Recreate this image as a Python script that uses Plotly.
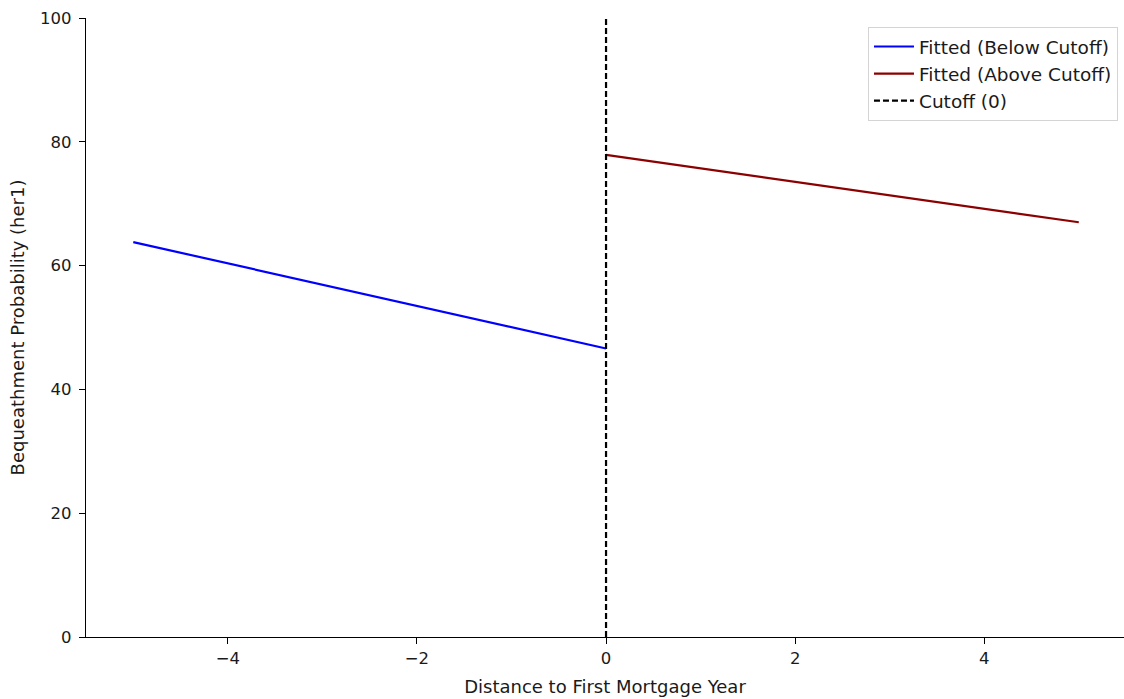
import plotly.graph_objects as go

below_x = [-5, 0]
below_y = [63.8, 46.6]
above_x = [0, 5]
above_y = [77.9, 67.0]
cutoff_x = [0, 0]
cutoff_y = [0, 100]

x_ticks = [-4, -2, 0, 2, 4]
x_tick_text = ["\u22124", "\u22122", "0", "2", "4"]
y_ticks = [0, 20, 40, 60, 80, 100]

txt = "#1a1a1a"
tick_font = dict(family="DejaVu Sans", size=16.5, color=txt)
title_font = dict(family="DejaVu Sans", size=18, color=txt)
legend_font = dict(family="DejaVu Sans", size=18.5, color=txt)

fig = go.Figure()
fig.add_trace(go.Scatter(x=below_x, y=below_y, mode="lines", name="Fitted (Below Cutoff)",
                         legendgroup="a", line=dict(color="#0000ff", width=2.2)))
fig.add_trace(go.Scatter(x=above_x, y=above_y, mode="lines", name="Fitted (Above Cutoff)",
                         legendgroup="b", line=dict(color="#8b0000", width=2.2)))
fig.add_trace(go.Scatter(x=cutoff_x, y=cutoff_y, mode="lines", name="Cutoff (0)",
                         legendgroup="c", line=dict(color="black", width=2.2, dash="6px,3px")))

fig.update_layout(
    template="none",
    width=1124, height=699,
    margin=dict(l=86, r=0, t=18, b=62, autoexpand=False),
    paper_bgcolor="white", plot_bgcolor="white",
    font=title_font,
    showlegend=True,
    legend=dict(x=0.9942, y=0.9855, xanchor="right", yanchor="top",
                bgcolor="rgba(255,255,255,0.8)", bordercolor="#d4d4d4", borderwidth=1,
                font=legend_font, traceorder="grouped",
                tracegroupgap=0, itemwidth=40),
    xaxis=dict(range=[-5.5, 5.478], tickvals=x_ticks, ticktext=x_tick_text,
               tickfont=tick_font, automargin=False,
               showgrid=False, zeroline=False, showline=True, linecolor="black", linewidth=1.2,
               ticks="outside", ticklen=6, tickcolor="black", tickwidth=1.2,
               title=dict(text="Distance to First Mortgage Year", standoff=13, font=title_font)),
    yaxis=dict(range=[0, 100], tickvals=y_ticks,
               tickfont=tick_font, automargin=False, ticklabelstandoff=4,
               showgrid=False, zeroline=False, showline=True, linecolor="black", linewidth=1.2,
               ticks="outside", ticklen=6, tickcolor="black", tickwidth=1.2,
               title=dict(text="Bequeathment Probability (her1)", standoff=10, font=title_font)),
)

fig.write_html("out.html")
